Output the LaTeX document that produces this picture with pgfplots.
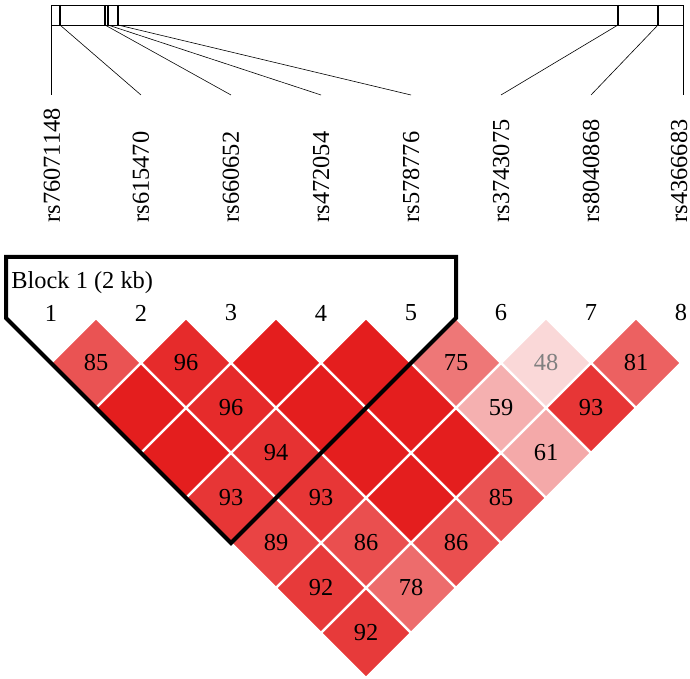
\documentclass[border=0pt]{standalone}
\usepackage{pgfplots}
\usepackage{pgfplotstable}
\pgfplotsset{compat=1.18}
\usepackage{fontspec}
\setmainfont{Liberation Serif}

% pairwise D' (x100) for markers i<j; 100 = D'=1, no number shown
\pgfplotstableread{
i j d
1 2 85
2 3 96
3 4 100
4 5 100
5 6 75
6 7 48
7 8 81
1 3 100
2 4 96
3 5 100
4 6 100
5 7 59
6 8 93
1 4 100
2 5 94
3 6 100
4 7 100
5 8 61
1 5 93
2 6 93
3 7 100
4 8 85
1 6 89
2 7 86
3 8 86
1 7 92
2 8 78
1 8 92
}\ldtable

\begin{document}
\begin{tikzpicture}
\begin{axis}[
  set layers,
  width=345pt, height=339.5pt, scale only axis,
  xmin=0, xmax=690, ymin=0, ymax=679, y dir=reverse,
  hide axis, clip=false,
  colormap={ld}{rgb255(48)=(250,216,216) rgb255(100)=(228,30,30)},
  point meta min=48, point meta max=100,
  every node near coord/.append style={font=\fontsize{12.2}{14}\selectfont, inner sep=0pt},
  nodes near coords align={center},
]
% chromosome bar with marker positions
\addplot[black, line width=0.4pt] coordinates {(51,5) (683,5) (683,25) (51,25)} -- cycle;
\addplot[black, line width=0.8pt] coordinates {(60,5) (60,25)};
\addplot[black, line width=0.8pt] coordinates {(105,5) (105,25)};
\addplot[black, line width=0.8pt] coordinates {(108,5) (108,25)};
\addplot[black, line width=0.8pt] coordinates {(118,5) (118,25)};
\addplot[black, line width=0.8pt] coordinates {(618,5) (618,25)};
\addplot[black, line width=0.8pt] coordinates {(658,5) (658,25)};
% connectors
\addplot[black, line width=0.3pt] coordinates {(51,25) (51,95)};
\addplot[black, line width=0.3pt] coordinates {(60,25) (141,95)};
\addplot[black, line width=0.3pt] coordinates {(105,25) (231,95)};
\addplot[black, line width=0.3pt] coordinates {(108,25) (321,95)};
\addplot[black, line width=0.3pt] coordinates {(118,25) (411,95)};
\addplot[black, line width=0.3pt] coordinates {(618,25) (501,95)};
\addplot[black, line width=0.3pt] coordinates {(658,25) (591,95)};
\addplot[black, line width=0.3pt] coordinates {(683,25) (683,95)};
% marker names
\addplot[draw=none, point meta=explicit symbolic,
  nodes near coords, nodes near coords align={west},
  every node near coord/.append style={rotate=90, anchor=west}]
  coordinates {(52,223)[rs76071148] (141,223)[rs615470] (231,223)[rs660652]
    (321,223)[rs472054] (411,223)[rs578776] (501,223)[rs3743075]
    (591,223)[rs8040868] (679,223)[rs4366683]};
% marker numbers
\addplot[draw=none, point meta=explicit symbolic, nodes near coords]
  coordinates {(51,313)[1] (141,313)[2] (231,313)[3] (321,313)[4]
    (411,313)[5] (501,313)[6] (591,313)[7] (681,313)[8]};
% LD diamonds
\addplot[scatter, only marks, mark=square*, mark size=15.91pt,
  mark options={rotate=45, line width=1.1pt},
  scatter/use mapped color={draw=white, fill=mapped color},
  point meta=\thisrow{d}]
  table[x expr={45*(\thisrow{i}+\thisrow{j})-39}, y expr={318+45*(\thisrow{j}-\thisrow{i})}] {\ldtable};
% D' numbers
\addplot[draw=none, point meta=explicit symbolic,
  nodes near coords={\ifnum\pgfplotspointmeta=48 \color{gray}\fi
    \ifnum\pgfplotspointmeta<100 \pgfplotspointmeta\fi}]
  table[x expr={45*(\thisrow{i}+\thisrow{j})-39}, y expr={318+45*(\thisrow{j}-\thisrow{i})}, meta=d] {\ldtable};
% haplotype block outline, above the diamond marks
\addplot[on layer=axis foreground, black, line width=2pt, line join=miter]
  coordinates {(6,257) (456,257) (456,318) (231,543) (6,318)} -- cycle;
\node[anchor=west, inner sep=0pt, font=\fontsize{12.2}{14}\selectfont]
  at (axis cs:11,283) {Block 1 (2 kb)};
\end{axis}
\pgfresetboundingbox
\path (current axis.south west) rectangle (current axis.north east);
\end{tikzpicture}
\end{document}
